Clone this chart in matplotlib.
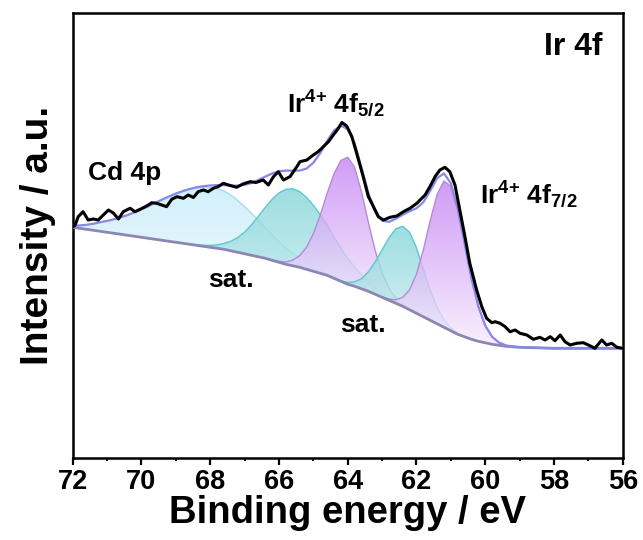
import numpy as np
import matplotlib
matplotlib.use('Agg')
import matplotlib.pyplot as plt
from matplotlib.colors import LinearSegmentedColormap
from matplotlib.ticker import MultipleLocator

plt.rcParams['font.family'] = 'Liberation Sans'
plt.rcParams['font.weight'] = 'bold'
plt.rcParams['mathtext.fontset'] = 'custom'
plt.rcParams['mathtext.rm'] = 'Liberation Sans:bold'
plt.rcParams['mathtext.bf'] = 'Liberation Sans:bold'
plt.rcParams['mathtext.it'] = 'Liberation Sans:bold'
plt.rcParams['mathtext.default'] = 'bf'

# measured Ir 4f spectrum (binding energy in eV, intensity in a.u.)
raw_energy = [72.00, 71.93, 71.84, 71.70, 71.55, 71.40, 71.26, 71.11, 70.96, 70.82,
              70.67, 70.53, 70.33, 70.19, 70.04, 69.85, 69.70, 69.56, 69.41, 69.27,
              69.12, 68.97, 68.78, 68.64, 68.49, 68.35, 68.20, 68.06, 67.91, 67.76,
              67.62, 67.42, 67.23, 67.05, 66.84, 66.67, 66.46, 66.31, 66.16, 66.02,
              65.87, 65.68, 65.48, 65.39, 65.19, 65.00, 64.86, 64.71, 64.56, 64.42,
              64.27, 64.17, 64.03, 63.88, 63.74, 63.55, 63.40, 63.30, 63.11, 62.96,
              62.77, 62.57, 62.38, 62.19, 61.99, 61.75, 61.61, 61.46, 61.32, 61.17,
              61.03, 60.88, 60.74, 60.59, 60.45, 60.25, 60.10, 59.96, 59.81, 59.71,
              59.57, 59.42, 59.28, 59.13, 58.99, 58.79, 58.60, 58.41, 58.26, 58.11,
              57.97, 57.82, 57.68, 57.53, 57.34, 57.15, 57.00, 56.81, 56.61, 56.47,
              56.32, 56.17, 56.00]
raw_intensity = [231.3, 233.3, 241.6, 246.6, 238.3, 239.3, 238.3, 243.3, 248.3, 245.3,
                 239.3, 246.6, 250.0, 246.6, 249.0, 252.3, 255.6, 255.0, 253.3, 251.6,
                 259.0, 261.6, 260.0, 263.3, 260.8, 266.6, 268.3, 266.6, 270.0, 271.8,
                 275.0, 272.8, 271.0, 274.3, 276.6, 275.8, 278.3, 273.3, 281.6, 286.6,
                 278.3, 281.6, 291.6, 296.6, 298.3, 303.3, 306.6, 311.6, 316.6, 323.3,
                 330.0, 335.8, 332.3, 321.6, 305.0, 281.6, 261.6, 255.0, 241.6, 238.3,
                 241.0, 242.3, 246.6, 250.0, 255.0, 263.3, 271.6, 281.6, 288.3, 291.0,
                 286.6, 273.3, 248.3, 221.6, 195.0, 168.3, 151.6, 140.0, 135.6, 136.6,
                 135.0, 131.6, 126.6, 128.3, 125.0, 123.3, 119.0, 121.0, 118.3, 121.6,
                 117.6, 123.3, 116.6, 113.3, 115.0, 115.6, 113.3, 110.0, 118.3, 113.3,
                 115.0, 111.0, 110.0]

# fit grid: 72.0 -> 56.0 eV in 0.2 eV steps (81 points)
fit_energy = np.linspace(72, 56, 81)

background = [231, 230, 229, 228, 227, 226, 225, 224, 223, 222,
              221, 220, 219, 218, 217, 216, 215, 214, 213, 212,
              211, 210, 209, 207.5, 206, 204.5, 203, 201.5, 200, 198,
              196, 194, 192.5, 191, 189, 187, 185, 183, 180, 177,
              174, 172, 169.5, 167, 164, 161, 158, 155, 152, 148.5,
              145, 141.5, 138, 134.5, 131, 127.5, 124, 121.5, 119, 117,
              115.5, 114, 113, 112, 111.5, 111, 110.8, 110.6, 110.4, 110.2,
              110, 110, 110, 110, 110, 110, 110, 110, 110, 110, 110]

# fitted components, height above background on the fit grid
cd_4p = [1.5, 2.8, 4.5, 6.5, 9.1, 11.4, 14.0, 17.0, 20.3, 24.0,
         28.0, 32.1, 36.4, 40.7, 44.8, 48.7, 52.2, 55.1, 57.5, 59.1,
         59.9, 59.8, 58.4, 55.7, 51.9, 47.2, 41.9, 36.4, 30.8, 25.5,
         20.6, 16.3, 12.5, 9.4, 6.9, 5.0, 3.5, 2.4, 1.6, 1.0,
         0.7, 0.4, 0.2, 0.1, 0, 0, 0, 0, 0, 0,
         0, 0, 0, 0, 0, 0, 0, 0, 0, 0,
         0, 0, 0, 0, 0, 0, 0, 0, 0, 0,
         0, 0, 0, 0, 0, 0, 0, 0, 0, 0, 0]
sat_1 = [0, 0, 0, 0, 0, 0, 0, 0, 0, 0,
         0, 0, 0, 0, 0, 0, 0, 0.2, 0.5, 1.0,
         1.9, 3.4, 5.8, 9.5, 14.7, 21.7, 30.4, 40.4, 50.9, 61.0,
         69.4, 75.0, 77.0, 75.7, 71.9, 66.0, 58.5, 50.2, 41.5, 33.2,
         25.7, 19.2, 13.9, 9.7, 6.5, 4.2, 2.7, 1.6, 1.0, 0.5,
         0.3, 0, 0, 0, 0, 0, 0, 0, 0, 0,
         0, 0, 0, 0, 0, 0, 0, 0, 0, 0,
         0, 0, 0, 0, 0, 0, 0, 0, 0, 0, 0]
ir_4f52 = [0, 0, 0, 0, 0, 0, 0, 0, 0, 0,
           0, 0, 0, 0, 0, 0, 0, 0, 0, 0,
           0, 0, 0, 0, 0, 0, 0, 0, 0, 0.3,
           1.0, 2.4, 5.6, 11.6, 21.9, 37.5, 58.1, 81.8, 104.5, 120.9,
           127.0, 119.0, 97.0, 69.0, 43.5, 24.5, 12.0, 5.0, 1.6, 0.5,
           0.1, 0, 0, 0, 0, 0, 0, 0, 0, 0,
           0, 0, 0, 0, 0, 0, 0, 0, 0, 0,
           0, 0, 0, 0, 0, 0, 0, 0, 0, 0, 0]
sat_2 = [0, 0, 0, 0, 0, 0, 0, 0, 0, 0,
         0, 0, 0, 0, 0, 0, 0, 0, 0, 0,
         0, 0, 0, 0, 0, 0, 0, 0, 0, 0,
         0, 0, 0, 0, 0, 0, 0, 0, 0.2, 0.6,
         1.8, 4.5, 10.0, 19.5, 32.5, 47.5, 62.5, 74.5, 80.0, 77.5,
         65.4, 47.6, 29.9, 16.2, 7.5, 3.0, 1.1, 0.3, 0, 0,
         0, 0, 0, 0, 0, 0, 0, 0, 0, 0,
         0, 0, 0, 0, 0, 0, 0, 0, 0, 0, 0]
ir_4f72 = [0, 0, 0, 0, 0, 0, 0, 0, 0, 0,
           0, 0, 0, 0, 0, 0, 0, 0, 0, 0,
           0, 0, 0, 0, 0, 0, 0, 0, 0, 0,
           0, 0, 0, 0, 0, 0, 0, 0, 0, 0,
           0, 0, 0, 0, 0, 0.4, 1.2, 3.5, 8.9, 20.0,
           39.2, 67.0, 99.7, 129.4, 146.4, 144.4, 124.2, 93.1, 60.8, 34.7,
           17.2, 7.5, 2.8, 0.9, 0.3, 0, 0, 0, 0, 0,
           0, 0, 0, 0, 0, 0, 0, 0, 0, 0, 0]

xticks = [72, 70, 68, 66, 64, 62, 60, 58, 56]

bg = np.array(background)
components = [
    (np.array(cd_4p), '#c6ecfb', '#e6f6fd', '#a8dcec'),
    (np.array(sat_1), '#80d4d9', '#d0eef2', '#5ec7cf'),
    (np.array(ir_4f52), '#c47ff3', '#f6edfd', '#b48bd6'),
    (np.array(sat_2), '#80d4d9', '#d0eef2', '#5ec7cf'),
    (np.array(ir_4f72), '#c47ff3', '#f6edfd', '#b48bd6'),
]

fig = plt.figure(figsize=(6.43, 5.4), dpi=100)
ax = fig.add_axes([0.1131, 0.1513, 0.8554, 0.8241])

z = 2
for h, c_top, c_bot, c_edge in components:
    top = bg + h
    poly = ax.fill_between(fit_energy, bg, top, facecolor='none', edgecolor='none')
    m = h > 0
    cmap = LinearSegmentedColormap.from_list('grad', [c_bot, c_top])
    img = ax.imshow(np.linspace(0, 1, 256).reshape(-1, 1), cmap=cmap, aspect='auto',
                    origin='lower', alpha=0.78, zorder=z,
                    extent=(72, 56, bg[m].min(), top.max()))
    img.set_clip_path(poly.get_paths()[0], transform=ax.transData)
    ax.plot(fit_energy[m], top[m], color=c_edge, lw=1.0, zorder=z + 0.1)
    z += 0.2

envelope = bg + sum(c[0] for c in components)
ax.plot(fit_energy, bg, color='#8c87b2', lw=2.0, zorder=4)
ax.plot(fit_energy, envelope, color='#8888e8', lw=1.6, zorder=4.1)
ax.plot(raw_energy, raw_intensity, color='black', lw=2.2, zorder=5)

ax.text(0.964, 0.906, 'Ir 4f', transform=ax.transAxes, ha='right', va='baseline',
        fontsize=23, fontweight='bold')
ax.text(71.55, 278, 'Cd 4p', fontsize=19, fontweight='bold', va='baseline')
ax.text(68.06, 171, 'sat.', fontsize=19, fontweight='bold', va='baseline')
ax.text(64.22, 126, 'sat.', fontsize=19, fontweight='bold', va='baseline')
ax.text(65.77, 346, r'Ir$^{4{+}}$ 4f$_{5/2}$', fontsize=19, fontweight='bold', va='baseline')
ax.text(60.15, 255, r'Ir$^{4{+}}$ 4f$_{7/2}$', fontsize=19, fontweight='bold', va='baseline')

ax.set_xlim(72, 56)
ax.set_ylim(0, 445)
ax.set_xticks(xticks)
ax.xaxis.set_minor_locator(MultipleLocator(1))
ax.set_yticks([])
ax.tick_params(axis='x', which='major', direction='out', length=5, width=1.6,
               labelsize=19.5, pad=3)
ax.tick_params(axis='x', which='minor', direction='out', length=2.5, width=1.4)
for s in ax.spines.values():
    s.set_linewidth(1.8)

ax.set_xlabel('Binding energy / eV', fontsize=27.5, fontweight='bold', labelpad=0)
ax.set_ylabel('Intensity / a.u.', fontsize=28, fontweight='bold', labelpad=12)

fig.savefig('out.png', dpi=100)
